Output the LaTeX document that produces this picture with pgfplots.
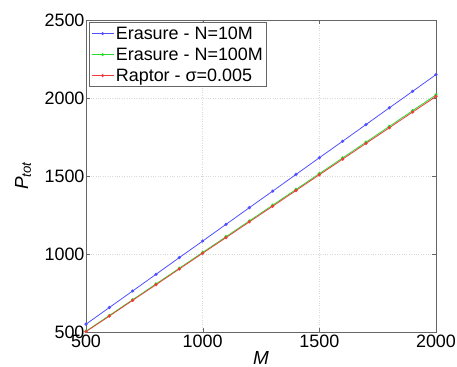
\documentclass[border=0pt]{standalone}
\usepackage{fontspec}
\setmainfont{Liberation Sans}
\usepackage{pgfplots}
\pgfplotsset{compat=1.18}
\definecolor{mblue}{RGB}{80,80,255}
\definecolor{mgreen}{RGB}{40,220,40}
\definecolor{mred}{RGB}{240,60,60}
\begin{document}
\begin{tikzpicture}
\begin{axis}[
  name=ax,
  width=350bp, height=312bp, scale only axis,
  xmin=500, xmax=2000, ymin=500, ymax=2500,
  xtick={500,1000,1500,2000}, ytick={500,1000,1500,2000,2500},
  /pgf/number format/assume math mode=true,
  /pgf/number format/1000 sep={},
  tick label style={font=\fontsize{18}{20}\selectfont},
  xticklabel style={yshift=1pt},
  yticklabel style={xshift=2pt},
  grid=major, major grid style={gray!30, dotted},
  axis line style={black!60, line width=1pt},
  tick style={black!60},
  tick align=inside,
  xlabel={\fontsize{19}{21}\selectfont\itshape M},
  ylabel={\fontsize{19}{21}\selectfont\itshape P$_{\mathit{tot}}$},
  xlabel style={at={(axis description cs:0.5,-0.083)}, anchor=center},
  ylabel style={at={(axis description cs:-0.18,0.5)}, anchor=center},
  legend style={font=\fontsize{18}{20}\selectfont, draw=black!60, line width=1pt, inner sep=2pt, row sep=3pt, at={(0.008,0.993)}, anchor=north west},
  legend cell align=left,
  legend image code/.code={\draw[#1, line width=0.6pt] (0bp,0bp) -- (22bp,0bp); \draw[#1, mark=*, mark size=1.1pt, mark options={solid}] plot coordinates {(11bp,0bp)};},
  every axis plot/.append style={line width=0.8pt, mark=*, mark size=1.2pt},
]
\addplot[mblue, mark options={fill=mblue}] coordinates {
(500,550) (600,657) (700,763) (800,870) (900,977) (1000,1083) (1100,1190) (1200,1297) (1300,1403) (1400,1510) (1500,1617) (1600,1723) (1700,1830) (1800,1937) (1900,2043) (2000,2150)};
\addlegendentry{Erasure - N=10M}
\addplot[mgreen, mark options={fill=mgreen}] coordinates {
(500,505) (600,606) (700,707) (800,808) (900,909) (1000,1010) (1100,1111) (1200,1212) (1300,1313) (1400,1414) (1500,1515) (1600,1616) (1700,1717) (1800,1818) (1900,1919) (2000,2020)};
\addlegendentry{Erasure - N=100M}
\addplot[mred, mark options={fill=mred}] coordinates {
(500,502) (600,602) (700,703) (800,803) (900,904) (1000,1005) (1100,1105) (1200,1206) (1300,1306) (1400,1407) (1500,1508) (1600,1608) (1700,1709) (1800,1809) (1900,1910) (2000,2010)};
\addlegendentry{Raptor - σ=0.005}
\end{axis}
\pgfresetboundingbox
\path[use as bounding box] ([shift={(-86bp,-35bp)}]ax.south west) rectangle ([shift={(21bp,20bp)}]ax.north east);
\end{tikzpicture}
\end{document}
